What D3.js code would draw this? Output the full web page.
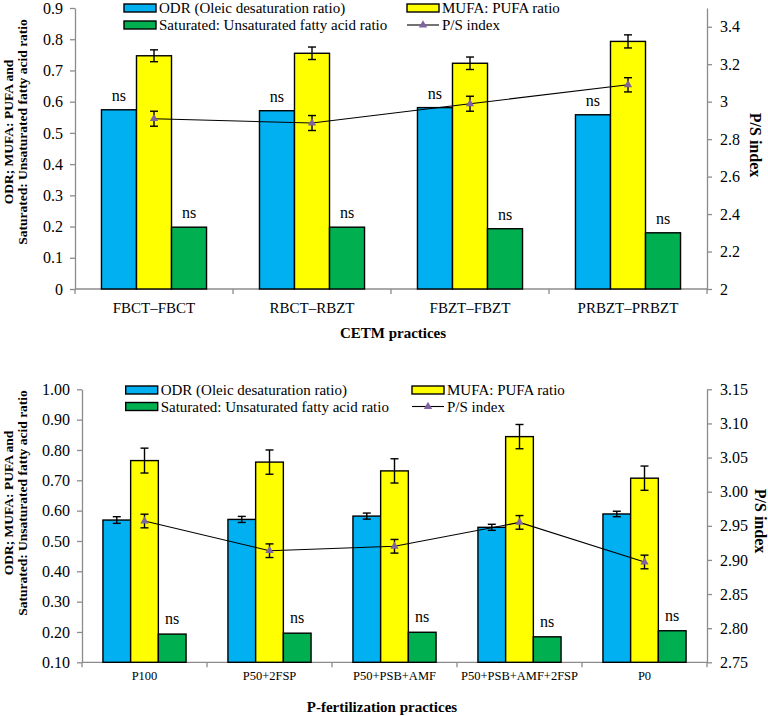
<!DOCTYPE html>
<html><head><meta charset="utf-8">
<script src="https://cdn.jsdelivr.net/npm/d3@7"></script>
<style>
html,body{margin:0;padding:0;background:#fff;}
svg{display:block;font-family:"Liberation Serif","Times New Roman",serif;}
</style></head>
<body>
<svg id="chart" width="768" height="716"></svg>
<script>
// ---------- DATA: top chart (CETM practices) ----------
const topCategories = ["FBCT–FBCT", "RBCT–RBZT", "FBZT–FBZT", "PRBZT–PRBZT"];
const topODR = [0.574, 0.571, 0.581, 0.558];
const topMUFA = [0.747, 0.755, 0.723, 0.793];
const topMUFAErr = [0.019, 0.020, 0.020, 0.021];
const topSat = [0.198, 0.198, 0.193, 0.180];
const topPS = [2.909, 2.886, 2.989, 3.090];
const topPSErr = [0.040, 0.040, 0.040, 0.038];
const topLeftTicks = [0, 0.1, 0.2, 0.3, 0.4, 0.5, 0.6, 0.7, 0.8, 0.9];
const topLeftLabels = ["0", "0.1", "0.2", "0.3", "0.4", "0.5", "0.6", "0.7", "0.8", "0.9"];
const topRightTicks = [2, 2.2, 2.4, 2.6, 2.8, 3, 3.2, 3.4];
const topRightLabels = ["2", "2.2", "2.4", "2.6", "2.8", "3", "3.2", "3.4"];

// ---------- DATA: bottom chart (P-fertilization practices) ----------
const botCategories = ["P100", "P50+2FSP", "P50+PSB+AMF", "P50+PSB+AMF+2FSP", "P0"];
const botODR = [0.569, 0.571, 0.582, 0.545, 0.589];
const botODRErr = [0.011, 0.010, 0.010, 0.010, 0.009];
const botMUFA = [0.765, 0.760, 0.731, 0.844, 0.707];
const botMUFAErr = [0.041, 0.040, 0.040, 0.040, 0.040];
const botSat = [0.193, 0.196, 0.199, 0.184, 0.204];
const botPS = [2.957, 2.9135, 2.920, 2.955, 2.897];
const botPSErr = [0.010, 0.010, 0.010, 0.010, 0.010];
const botLeftTicks = [0.1, 0.2, 0.3, 0.4, 0.5, 0.6, 0.7, 0.8, 0.9, 1.0];
const botLeftLabels = ["0.10", "0.20", "0.30", "0.40", "0.50", "0.60", "0.70", "0.80", "0.90", "1.00"];
const botRightTicks = [2.75, 2.80, 2.85, 2.90, 2.95, 3.00, 3.05, 3.10, 3.15];
const botRightLabels = ["2.75", "2.80", "2.85", "2.90", "2.95", "3.00", "3.05", "3.10", "3.15"];

const seriesNames = ["ODR (Oleic desaturation ratio)", "MUFA: PUFA ratio", "Saturated: Unsaturated fatty acid ratio", "P/S index"];
const colors = {odr: "#00B0F0", mufa: "#FFFF00", sat: "#00B050", ps: "#8064A2"};
const yTitle1 = "ODR; MUFA: PUFA and";
const yTitle2 = "Saturated: Unsaturated fatty acid ratio";
const y2Title = "P/S index";

const svg = d3.select("#chart");
const AXIS_GRAY = "#8C8C8C";

function drawChart(cfg) {
  const g = svg.append("g");
  const x = d3.scaleBand().domain(cfg.categories).range([cfg.x0, cfg.x1]).padding(0);
  const bw = x.bandwidth();
  const groupW = bw * 0.665;
  const x1 = d3.scaleBand().domain(["odr", "mufa", "sat"]).range([(bw - groupW) / 2, (bw + groupW) / 2]).padding(0);
  const y = d3.scaleLinear().domain(cfg.leftDomain).range([cfg.yBottom, cfg.yTop]);
  const y2 = d3.scaleLinear().domain(cfg.rightDomain).range([cfg.yBottom, cfg.yTop]);

  // axes
  const la = g.append("g").attr("transform", `translate(${cfg.x0},0)`)
    .call(d3.axisLeft(y).tickValues(cfg.leftTicks).tickFormat((d, i) => cfg.leftLabels[i]).tickSize(5).tickSizeOuter(0).tickPadding(7));
  const ra = g.append("g").attr("transform", `translate(${cfg.x1},0)`)
    .call(d3.axisRight(y2).tickValues(cfg.rightTicks).tickFormat((d, i) => cfg.rightLabels[i]).tickSize(5).tickSizeOuter(0).tickPadding(8));
  [la, ra].forEach(a => {
    a.selectAll("path.domain").attr("stroke", AXIS_GRAY).attr("stroke-width", 1.3);
    a.selectAll(".tick line").attr("stroke", AXIS_GRAY).attr("stroke-width", 1.3);
    a.selectAll(".tick text").attr("fill", "#000").style("font-size", cfg.tickFont + "px").style("font-family", "Liberation Serif");
  });
  // x axis
  const xa = g.append("g").attr("transform", `translate(0,${cfg.yBottom})`)
    .call(d3.axisBottom(x).tickSize(0).tickPadding(cfg.catPad));
  xa.selectAll("path.domain").remove();
  xa.selectAll(".tick text").attr("fill", "#000").style("font-size", cfg.catFont + "px").style("font-family", "Liberation Serif");
  g.append("line").attr("x1", cfg.x0).attr("x2", cfg.x1).attr("y1", cfg.yBottom).attr("y2", cfg.yBottom)
    .attr("stroke", AXIS_GRAY).attr("stroke-width", 1.3);
  const bounds = cfg.categories.map(c => x(c)).concat([cfg.x1]);
  g.selectAll(".xt").data(bounds).join("line")
    .attr("x1", d => d).attr("x2", d => d).attr("y1", cfg.yBottom).attr("y2", cfg.yBottom + 5)
    .attr("stroke", AXIS_GRAY).attr("stroke-width", 1.3);

  // bars
  const rows = cfg.categories.map((c, i) => ({c, i, odr: cfg.odr[i], mufa: cfg.mufa[i], sat: cfg.sat[i], ps: cfg.ps[i]}));
  ["odr", "mufa", "sat"].forEach(k => {
    g.selectAll(".bar-" + k).data(rows).join("rect")
      .attr("x", d => x(d.c) + x1(k)).attr("width", x1.bandwidth())
      .attr("y", d => y(d[k])).attr("height", d => y(cfg.leftDomain[0]) - y(d[k]))
      .attr("fill", colors[k]).attr("stroke", "#000").attr("stroke-width", 1.4);
  });

  function errBars(vals, errs, xpos, scale) {
    const eg = g.append("g").attr("stroke", "#000").attr("stroke-width", 1.4);
    vals.forEach((v, i) => {
      const cx = xpos(i);
      const t = scale(v + errs[i]), b = scale(v - errs[i]);
      eg.append("line").attr("x1", cx).attr("x2", cx).attr("y1", t).attr("y2", b);
      eg.append("line").attr("x1", cx - 4).attr("x2", cx + 4).attr("y1", t).attr("y2", t);
      eg.append("line").attr("x1", cx - 4).attr("x2", cx + 4).attr("y1", b).attr("y2", b);
    });
  }
  if (cfg.odrErr) errBars(cfg.odr, cfg.odrErr, i => x(cfg.categories[i]) + x1("odr") + x1.bandwidth() / 2, y);
  errBars(cfg.mufa, cfg.mufaErr, i => x(cfg.categories[i]) + x1("mufa") + x1.bandwidth() / 2, y);

  // ns labels
  const nsKeys = cfg.nsOn;
  nsKeys.forEach(k => {
    g.selectAll(".ns-" + k).data(rows).join("text")
      .attr("x", d => x(d.c) + x1(k) + x1.bandwidth() / 2)
      .attr("y", d => y(d[k]) - cfg.nsGap)
      .attr("text-anchor", "middle").style("font-size", "16px").text("ns");
  });

  // P/S line
  const line = d3.line().x(d => x(d.c) + bw / 2).y(d => y2(d.ps));
  g.append("path").datum(rows).attr("d", line).attr("fill", "none").attr("stroke", "#000").attr("stroke-width", 1.1);
  errBars(cfg.ps, cfg.psErr, i => x(cfg.categories[i]) + bw / 2, y2);
  const tri = d3.symbol().type(d3.symbolTriangle).size(30);
  g.selectAll(".mk").data(rows).join("path")
    .attr("transform", d => `translate(${x(d.c) + bw / 2},${y2(d.ps)})`)
    .attr("d", tri).attr("fill", colors.ps);

  // axis titles
  const ymid = cfg.yTitleMid;
  g.append("text").attr("transform", `translate(${cfg.yT1x},${ymid}) rotate(-90)`)
    .attr("text-anchor", "middle").attr("dominant-baseline", "central")
    .style("font-size", "13.5px").style("font-weight", "bold").text(yTitle1);
  g.append("text").attr("transform", `translate(${cfg.yT2x},${ymid}) rotate(-90)`)
    .attr("text-anchor", "middle").attr("dominant-baseline", "central")
    .style("font-size", "13.5px").style("font-weight", "bold").text(yTitle2);
  g.append("text").attr("transform", `translate(${cfg.y2Tx},${cfg.y2TitleMid}) rotate(90)`)
    .attr("text-anchor", "middle").attr("dominant-baseline", "central")
    .style("font-size", "16px").style("font-weight", "bold").text(y2Title);
  g.append("text").attr("x", cfg.xTitleX).attr("y", cfg.xTitleY)
    .attr("text-anchor", "middle").style("font-size", "15px").style("font-weight", "bold").text(cfg.xTitle);

  // legend
  const L = cfg.legend;
  const items = [
    {k: "odr", name: seriesNames[0], sx: L.c1, sy: L.r1},
    {k: "mufa", name: seriesNames[1], sx: L.c2, sy: L.r1},
    {k: "sat", name: seriesNames[2], sx: L.c1, sy: L.r2},
    {k: "ps", name: seriesNames[3], sx: L.c2, sy: L.r2}
  ];
  items.forEach(it => {
    if (it.k === "ps") {
      g.append("line").attr("x1", it.sx).attr("x2", it.sx + 32).attr("y1", it.sy).attr("y2", it.sy)
        .attr("stroke", "#000").attr("stroke-width", 1.1);
      g.append("path").attr("transform", `translate(${it.sx + 16},${it.sy})`).attr("d", tri).attr("fill", colors.ps);
    } else {
      g.append("rect").attr("x", it.sx).attr("y", it.sy - 4).attr("width", 32).attr("height", 8)
        .attr("fill", colors[it.k]).attr("stroke", "#000").attr("stroke-width", 1.4);
    }
    g.append("text").attr("x", it.sx + 35).attr("y", it.sy).attr("dominant-baseline", "central")
      .style("font-size", "15px").text(it.name);
  });
}

drawChart({
  categories: topCategories, odr: topODR, mufa: topMUFA, mufaErr: topMUFAErr, sat: topSat, ps: topPS, psErr: topPSErr,
  leftDomain: [0, 0.9], rightDomain: [2, 3.5],
  leftTicks: topLeftTicks, leftLabels: topLeftLabels, rightTicks: topRightTicks, rightLabels: topRightLabels,
  x0: 75, x1: 707, yTop: 8, yBottom: 289, tickFont: 16, catFont: 15, catPad: 13,
  nsOn: ["odr", "sat"], nsGap: 9,
  yTitleMid: 132, yT1x: 8, yT2x: 22, y2Tx: 755, y2TitleMid: 145,
  xTitle: "CETM practices", xTitleX: 393, xTitleY: 338,
  legend: {c1: 124, c2: 407, r1: 8, r2: 25}
});

drawChart({
  categories: botCategories, odr: botODR, odrErr: botODRErr, mufa: botMUFA, mufaErr: botMUFAErr, sat: botSat, ps: botPS, psErr: botPSErr,
  leftDomain: [0.1, 1.0], rightDomain: [2.75, 3.15],
  leftTicks: botLeftTicks, leftLabels: botLeftLabels, rightTicks: botRightTicks, rightLabels: botRightLabels,
  x0: 82, x1: 707, yTop: 389.3, yBottom: 662.3, tickFont: 16, catFont: 12.5, catPad: 9,
  nsOn: ["sat"], nsGap: 10,
  yTitleMid: 503, yT1x: 8, yT2x: 22, y2Tx: 760, y2TitleMid: 521,
  xTitle: "P-fertilization practices", xTitleX: 382, xTitleY: 712,
  legend: {c1: 125.7, c2: 412, r1: 390, r2: 406.5}
});
</script>
</body></html>
